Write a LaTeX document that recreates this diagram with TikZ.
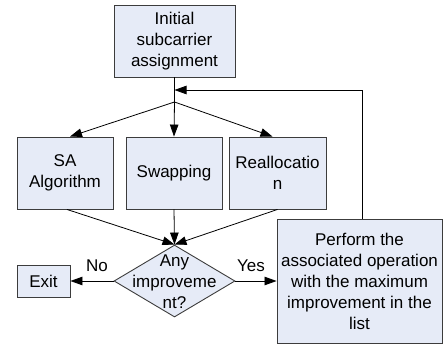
\documentclass[tikz,border=0pt]{standalone}
\usepackage{fontspec}
\setmainfont{Liberation Sans}
\usetikzlibrary{arrows.meta,shapes.geometric,calc}
\definecolor{boxfill}{RGB}{230,235,247}
\definecolor{boxline}{RGB}{60,60,60}
\begin{document}
\begin{tikzpicture}[x=1pt,y=-1pt,
  every node/.style={font=\fontsize{17}{21}\selectfont},
  box/.style={draw=boxline,fill=boxfill,line width=0.9pt,align=center,inner sep=0pt},
  decision/.style={draw=boxline,fill=boxfill,line width=0.9pt,shape=diamond,inner sep=0pt,minimum width=121pt,minimum height=72pt},
  txt/.style={align=center,inner sep=0pt},
  arr/.style={-{Triangle[length=12pt,width=8.5pt]},line width=0.8pt,black},
  ln/.style={line width=0.8pt,black}]
\useasboundingbox (0,0) rectangle (443,345);
\node[box,minimum width=121pt,minimum height=72pt] (init) at (174.5,41) {Initial\\subcarrier\\assignment};
\node[box,minimum width=96pt,minimum height=72pt] (sa) at (65,173) {SA\\Algorithm};
\node[box,minimum width=96pt,minimum height=72pt] (sw) at (174,173) {Swapping};
\node[box,minimum width=97pt,minimum height=72pt] (re) at (277.5,173) {Reallocatio\\n};
\node[decision] (dec) at (174.5,281) {};
\node[txt] (dectext) at (174.5,282) {Any\\improveme\\nt?};
\node[box,minimum width=53pt,minimum height=32pt] (exit) at (43.5,281) {Exit};
\node[box,minimum width=165pt,minimum height=124pt] (perf) at (359.5,281) {Perform the\\associated operation\\with the maximum\\improvement in the\\list};
\node[txt] (no) at (97,266) {No};
\node[txt] (yes) at (251,266) {Yes};
\coordinate (branch) at (174.5,102);
\coordinate (fbin) at (174.5,90);
\coordinate (fbcorner) at (362,90);
\draw[ln] (init.south) -- (branch);
\draw[arr] (branch) -- ([xshift=5pt]sa.north);
\draw[arr] (branch) -- (sw.north);
\draw[arr] (branch) -- ([xshift=-5pt]re.north);
\draw[arr] ([xshift=2pt]sa.south) -- (dec.north);
\draw[arr] (sw.south) -- (dec.north);
\draw[arr] (re.south) -- (dec.north);
\draw[arr] (dec.west) -- (exit.east);
\draw[arr] (dec.east) -- (perf.west);
\draw[arr] (perf.north -| fbcorner) -- (fbcorner) -- (fbin);
\end{tikzpicture}
\end{document}
